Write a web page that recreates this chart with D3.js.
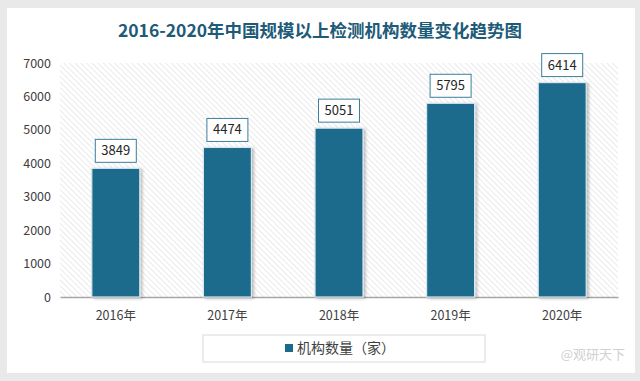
<!DOCTYPE html>
<html>
<head>
<meta charset="utf-8">
<script src="https://cdn.jsdelivr.net/npm/d3@7"></script>
<style>
  html, body { margin: 0; padding: 0; background: #e9e9e9; }
  svg { display: block; }
  text { font-family: "Noto Sans CJK SC", "Noto Sans", sans-serif; }
</style>
</head>
<body>
<div id="chart"></div>
<script>
const years = ['2016年', '2017年', '2018年', '2019年', '2020年'];
const counts = [3849, 4474, 5051, 5795, 6414];
const yTicks = [0, 1000, 2000, 3000, 4000, 5000, 6000, 7000];
const titleText = '2016-2020年中国规模以上检测机构数量变化趋势图';
const legendText = '机构数量（家）';

const width = 640;
const height = 381;
const barColor = '#1c6a8c';

const svg = d3.select('#chart')
  .append('svg')
  .attr('width', width)
  .attr('height', height);

const defs = svg.append('defs');

// diagonal hatch behind the bars
const hatch = defs.append('pattern')
  .attr('id', 'hatch')
  .attr('patternUnits', 'userSpaceOnUse')
  .attr('width', 4)
  .attr('height', 4)
  .attr('patternTransform', 'rotate(-45)');
hatch.append('rect').attr('width', 4).attr('height', 4).attr('fill', '#ffffff');
hatch.append('line')
  .attr('x1', 0).attr('y1', 0).attr('x2', 0).attr('y2', 4)
  .attr('stroke', '#e4e4e4')
  .attr('stroke-width', 1.5);

const shadow = defs.append('filter')
  .attr('id', 'shadow')
  .attr('x', '-20%').attr('y', '-20%')
  .attr('width', '140%').attr('height', '140%');
shadow.append('feDropShadow')
  .attr('dx', 2).attr('dy', 1)
  .attr('stdDeviation', 1.5)
  .attr('flood-color', '#000')
  .attr('flood-opacity', 0.25);

// white card
svg.append('rect')
  .attr('x', 7).attr('y', 8)
  .attr('width', 628).attr('height', 365)
  .attr('fill', '#ffffff');

svg.append('text')
  .attr('x', 320)
  .attr('y', 37)
  .attr('text-anchor', 'middle')
  .attr('font-size', 17.5)
  .attr('font-weight', 700)
  .attr('fill', '#1d5b78')
  .text(titleText);

const x = d3.scaleBand()
  .domain(years)
  .range([60, 618])
  .paddingInner(0.57)
  .paddingOuter(0.285);

const y = d3.scaleLinear()
  .domain([0, 7000])
  .range([297, 63]);

svg.append('rect')
  .attr('x', 60)
  .attr('y', y(7000))
  .attr('width', 558)
  .attr('height', y(0) - y(7000))
  .attr('fill', 'url(#hatch)');

// y axis (labels only)
const yAxis = svg.append('g')
  .attr('transform', 'translate(51,0)')
  .call(d3.axisLeft(y).tickValues(yTicks).tickFormat(d3.format('d')).tickSize(0).tickPadding(0));
yAxis.select('.domain').remove();
yAxis.selectAll('text')
  .attr('font-size', 12.5)
  .attr('fill', '#404040');

// x axis
const xAxis = svg.append('g')
  .attr('transform', `translate(0,${y(0)})`)
  .call(d3.axisBottom(x).tickSize(0).tickPadding(14).tickSizeOuter(0));
xAxis.select('.domain')
  .attr('stroke', '#a6a6a6')
  .attr('stroke-width', 1.5);
xAxis.selectAll('text')
  .attr('font-size', 12.5)
  .attr('fill', '#404040');

// bars
svg.append('g')
  .selectAll('rect')
  .data(counts)
  .join('rect')
  .attr('x', (d, i) => x(years[i]))
  .attr('y', d => y(d))
  .attr('width', x.bandwidth())
  .attr('height', d => y(0) - y(d))
  .attr('fill', barColor)
  .attr('stroke', '#d6e6ee')
  .attr('stroke-width', 1.2)
  .attr('filter', 'url(#shadow)');

// value labels in boxes
const labels = svg.append('g')
  .selectAll('g')
  .data(counts)
  .join('g')
  .attr('transform', (d, i) => `translate(${x(years[i]) + x.bandwidth() / 2},${y(d) - 6})`);

labels.append('rect')
  .attr('x', -20.5)
  .attr('y', -23)
  .attr('width', 41)
  .attr('height', 23)
  .attr('fill', '#ffffff')
  .attr('stroke', '#3b7f9c')
  .attr('stroke-width', 1);

labels.append('text')
  .attr('y', -7)
  .attr('text-anchor', 'middle')
  .attr('font-size', 13)
  .attr('fill', '#262626')
  .text(d => d);

// legend
const legend = svg.append('g');
legend.append('rect')
  .attr('x', 203).attr('y', 335)
  .attr('width', 282).attr('height', 27)
  .attr('fill', '#ffffff')
  .attr('stroke', '#d9d9d9');
legend.append('rect')
  .attr('x', 285).attr('y', 344)
  .attr('width', 8).attr('height', 8)
  .attr('fill', barColor);
legend.append('text')
  .attr('x', 297).attr('y', 353)
  .attr('font-size', 14)
  .attr('fill', '#404040')
  .text(legendText);

// watermark
svg.append('text')
  .attr('x', 625).attr('y', 359)
  .attr('text-anchor', 'end')
  .attr('font-size', 13)
  .attr('fill', '#d0d0d0')
  .text('@观研天下');
</script>
</body>
</html>
